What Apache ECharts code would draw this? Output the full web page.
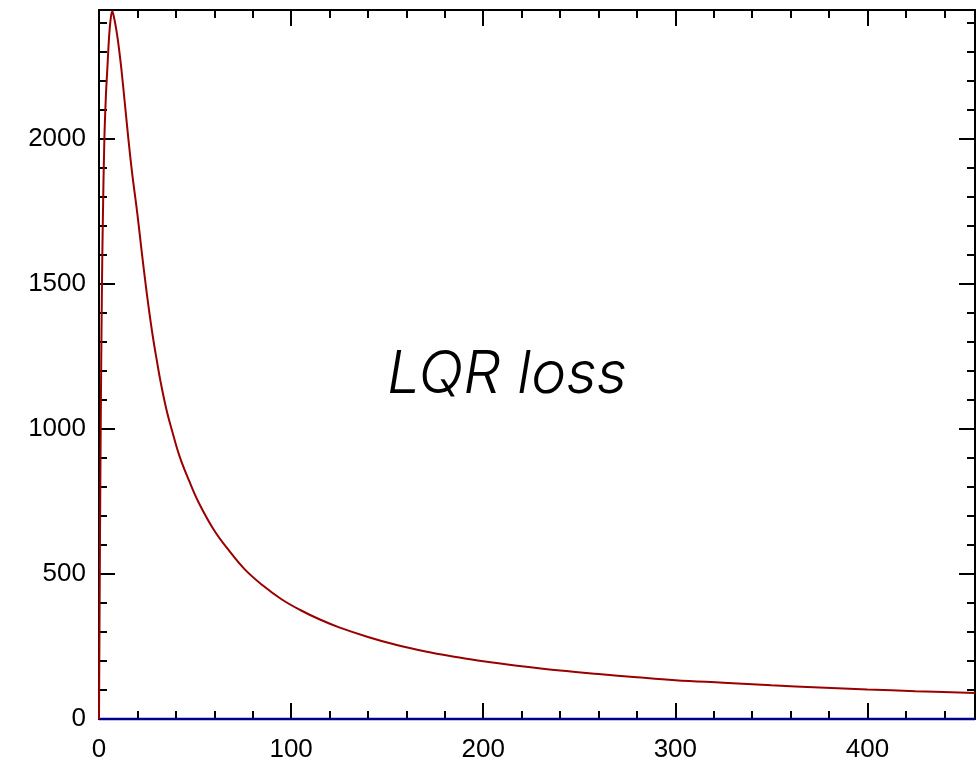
<!DOCTYPE html>
<html>
<head>
<meta charset="utf-8">
<script src="https://cdn.jsdelivr.net/npm/echarts@6/dist/echarts.min.js"></script>
<style>
  html, body { margin: 0; padding: 0; background: #fff; }
  #chart { width: 979px; height: 768px; }
</style>
</head>
<body>
<div id="chart"></div>
<script>
// Iteration counts and LQR loss values
const iterations = [0, 0.5, 1, 1.5, 2, 2.8, 3.6, 4.4, 5.2, 6, 6.9, 7.8, 8.8, 9.7, 10.8, 11.8, 13.5, 15.3, 17.2, 20, 22, 24, 26, 28, 30, 32, 35, 38, 42, 47, 52, 60, 68, 76, 85, 95, 105, 115, 125, 140, 155, 170, 185, 200, 220, 240, 260, 280, 300, 325, 350, 375, 400, 425, 456];
const lossValues = [0, 600, 1100, 1470, 1720, 2000, 2150, 2250, 2347, 2410, 2441, 2420, 2385, 2347, 2290, 2232, 2120, 2000, 1885, 1740, 1625, 1514, 1412, 1320, 1240, 1165, 1070, 995, 905, 820, 745, 650, 578, 515, 462, 413, 375, 343, 316, 283, 255, 233, 215, 199, 182, 167, 155, 144, 134, 125, 116, 109, 102, 96, 90];

// Reference (optimal) level
const baselineX = [0, 456];
const baselineY = [0, 0];

const xTickLabels = ['0', '100', '200', '300', '400'];
const yTickLabels = ['0', '500', '1000', '1500', '2000'];

const X_MAX = 456;
const Y_MAX = 2445;

const chart = echarts.init(document.getElementById('chart'), null, { renderer: 'canvas' });

const lineStyle = { color: '#000', width: 2 };
const labelFont = { fontFamily: 'Liberation Sans, Arial, sans-serif', fontSize: 26, color: '#000' };

function xAxisDef(position, major, showLabels) {
  return {
    type: 'value', position: position, min: 0, max: X_MAX,
    interval: major ? 100 : 20,
    axisLine: { show: true, onZero: false, lineStyle: lineStyle },
    axisTick: { show: true, inside: true, length: major ? 16 : 8, lineStyle: { color: '#000', width: 2 } },
    axisLabel: showLabels ? Object.assign({
      show: true, margin: 18, showMaxLabel: false,
      formatter: v => xTickLabels.includes(String(v)) ? String(v) : ''
    }, labelFont) : { show: false },
    splitLine: { show: false }
  };
}

function yAxisDef(position, major, showLabels) {
  return {
    type: 'value', position: position, min: 0, max: Y_MAX,
    interval: major ? 500 : 100,
    axisLine: { show: true, onZero: false, lineStyle: lineStyle },
    axisTick: { show: true, inside: true, length: major ? 16 : 8, lineStyle: { color: '#000', width: 2 } },
    axisLabel: showLabels ? Object.assign({
      show: true, margin: 13, showMaxLabel: false,
      formatter: v => yTickLabels.includes(String(v)) ? String(v) : ''
    }, labelFont) : { show: false },
    splitLine: { show: false }
  };
}

const option = {
  animation: false,
  backgroundColor: '#fff',
  grid: { left: 99, right: 4, top: 10, bottom: 49 },
  xAxis: [
    xAxisDef('bottom', true, true),
    xAxisDef('bottom', false, false),
    xAxisDef('top', true, false),
    xAxisDef('top', false, false)
  ],
  yAxis: [
    yAxisDef('left', true, true),
    yAxisDef('left', false, false),
    yAxisDef('right', true, false),
    yAxisDef('right', false, false)
  ],
  graphic: [{
    type: 'text',
    x: 507, y: 375,
    style: {
      text: 'LQR loss',
      fontFamily: 'Inter, Liberation Sans, sans-serif',
      fontWeight: 300,
      fontStyle: 'italic',
      fontSize: 59,
      fill: '#000',
      align: 'center',
      verticalAlign: 'middle'
    },
    z: 10
  }],
  series: [
    {
      type: 'line',
      xAxisIndex: 0, yAxisIndex: 0,
      data: baselineX.map((x, i) => [x, baselineY[i]]),
      showSymbol: false,
      clip: false,
      lineStyle: { color: '#00008b', width: 2.5 },
      z: 5
    },
    {
      type: 'line',
      xAxisIndex: 0, yAxisIndex: 0,
      data: iterations.map((x, i) => [x, lossValues[i]]),
      showSymbol: false,
      smooth: 0.4,
      clip: false,
      lineStyle: { color: '#990000', width: 2 },
      z: 6
    }
  ]
};

chart.setOption(option);
</script>
</body>
</html>
